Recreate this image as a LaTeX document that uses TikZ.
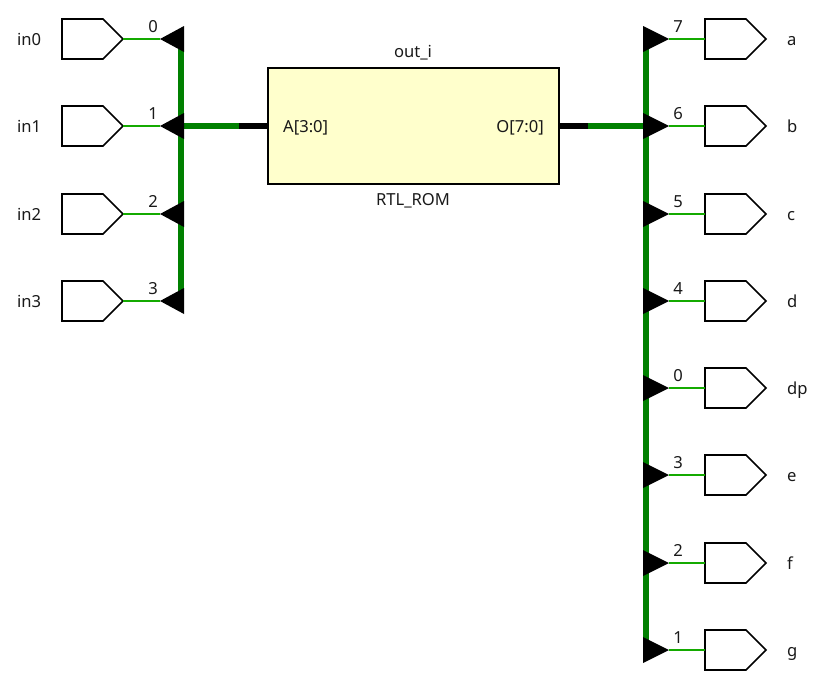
\documentclass[tikz,border=0pt]{standalone}
\usepackage{fontspec}
\setmainfont{Noto Sans}
\usetikzlibrary{shapes.symbols}
\definecolor{wiregreen}{RGB}{20,170,0}
\definecolor{busgreen}{RGB}{0,128,0}
\definecolor{romfill}{RGB}{255,255,204}
\definecolor{txt}{RGB}{25,25,25}
\tikzset{
  x=1pt,y=-1pt,
  port/.style={signal,signal to=east,signal pointer angle=90,draw=black,line width=1.7pt,fill=white,
    minimum width=61pt,minimum height=40pt,inner sep=0pt,anchor=west,outer sep=0pt},
  lbl/.style={font=\fontsize{16.6}{16.6}\selectfont,text=txt,inner sep=0pt},
  wire/.style={draw=wiregreen,line width=1.6pt},
  bus/.style={draw=busgreen,line width=5.6pt},
  stub/.style={draw=black,line width=5.6pt},
  tri/.style={fill=black,draw=none},
  rom/.style={draw=black,line width=1.7pt,fill=romfill,minimum width=291pt,minimum height=116pt,inner sep=0pt,outer sep=0pt}
}
\begin{document}
\begin{tikzpicture}
\useasboundingbox (0,0) rectangle (822,680);
% ROM
\node[rom] (rom) at (413.5,126) {};
\node[lbl,anchor=base] (romtop) at (413,57) {out\_i};
\node[lbl,anchor=base] (rombot) at (413,205) {RTL\_ROM};
\node[lbl,anchor=base west] (addr) at (283,132) {A[3:0]};
\node[lbl,anchor=base east] (data) at (544,132) {O[7:0]};
% buses
\coordinate (lt) at (181,39);
\coordinate (lb) at (181,301);
\coordinate (lj) at (181,126);
\coordinate (rt) at (646,39);
\coordinate (rb) at (646,650);
\coordinate (rj) at (646,126);
\coordinate (ls) at (239,126);
\coordinate (rs) at (588,126);
\draw[bus] (lt) -- (lb);
\draw[bus] (rt) -- (rb);
\draw[bus] (lj) -- (ls);
\draw[stub] (ls) -- (rom.west);
\draw[bus] (rj) -- (rs);
\draw[stub] (rs) -- (rom.east);
% inputs
\foreach \n/\y/\b in {in0/39/0,in1/126/1,in2/214/2,in3/301/3}{
  \node[port] (p\n) at (62,\y) {};
  \node[lbl,anchor=base west] (t\n) at (17,\y+6) {\n};
  \node[lbl,anchor=base] (b\n) at (153,\y-7) {\b};
  \coordinate (tip\n) at (160,\y);
  \draw[wire] (p\n.east) -- (tip\n);
  \fill[tri] (tip\n) -- (184,\y-13) -- (184,\y+13) -- cycle;
}
% outputs
\foreach \n/\y/\b in {a/39/7,b/126/6,c/214/5,d/301/4,dp/388/0,e/475/3,f/563/2,g/650/1}{
  \node[port] (p\n) at (705,\y) {};
  \node[lbl,anchor=base west] (t\n) at (787,\y+6) {\n};
  \node[lbl,anchor=base] (b\n) at (678,\y-7) {\b};
  \coordinate (tip\n) at (669,\y);
  \draw[wire] (tip\n) -- (p\n.west);
  \fill[tri] (tip\n) -- (643,\y-13) -- (643,\y+13) -- cycle;
}
\end{tikzpicture}
\end{document}
